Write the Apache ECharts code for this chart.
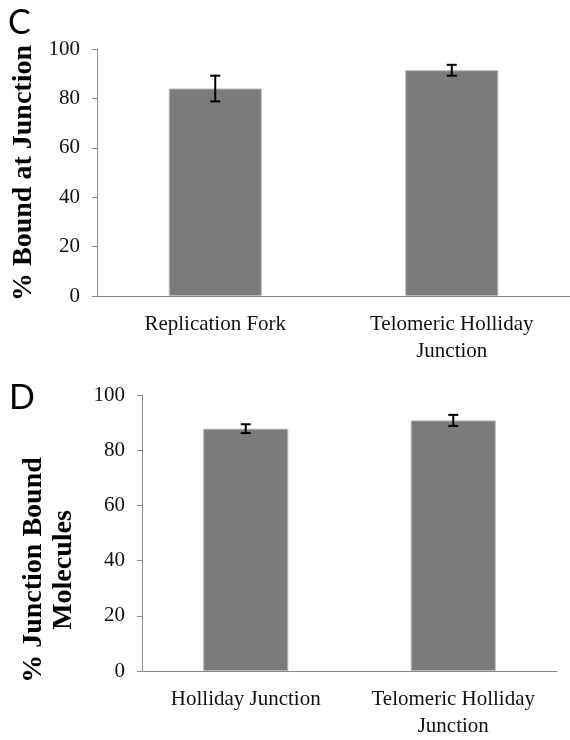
<!DOCTYPE html>
<html lang="en" style="height: 100%">
<head>
  <meta charset="utf-8">
</head>
<body style="height: 100%; margin: 0; background: #fff">
  <div id="container" style="width: 570px; height: 740px"></div>

  <script type="text/javascript" src="https://fastly.jsdelivr.net/npm/echarts@6.0.0/dist/echarts.min.js"></script>

  <script type="text/javascript">
    // panel C
    var catsC = ['Replication Fork', 'Telomeric Holliday\nJunction'];
    var valsC = [84.0, 91.4];
    var errC = [5.2, 2.2];
    // panel D
    var catsD = ['Holliday Junction', 'Telomeric Holliday\nJunction'];
    var valsD = [87.8, 90.8];
    var errD = [1.6, 2.0];

    var serif = "'Liberation Serif', 'Times New Roman', serif";
    var axisGray = '#8a8a8a';
    var barGray = '#7b7b7b';

    var dom = document.getElementById('container');
    var myChart = echarts.init(dom, null, { renderer: 'canvas' });

    function errData(vals, errs) {
      return vals.map(function (v, i) {
        return [i, v - errs[i], v + errs[i]];
      });
    }

    function renderErr(params, api) {
      var lo = api.coord([api.value(0), api.value(1)]);
      var hi = api.coord([api.value(0), api.value(2)]);
      var w = 5;
      var st = { stroke: '#000', lineWidth: 2 };
      return {
        type: 'group',
        children: [
          { type: 'line', shape: { x1: lo[0], y1: lo[1], x2: hi[0], y2: hi[1] }, style: st },
          { type: 'line', shape: { x1: lo[0] - w, y1: lo[1], x2: lo[0] + w, y2: lo[1] }, style: st },
          { type: 'line', shape: { x1: hi[0] - w, y1: hi[1], x2: hi[0] + w, y2: hi[1] }, style: st }
        ]
      };
    }

    function xAx(idx, cats) {
      return {
        type: 'category',
        gridIndex: idx,
        data: cats,
        axisLine: { lineStyle: { color: axisGray, width: 1 } },
        axisTick: { length: 6, lineStyle: { color: axisGray } },
        axisLabel: {
          margin: 15,
          fontFamily: serif,
          fontSize: 21,
          lineHeight: 27,
          color: '#111',
          interval: 0
        }
      };
    }

    function yAx(idx) {
      return {
        type: 'value',
        gridIndex: idx,
        min: 0,
        max: 100,
        interval: 20,
        splitLine: { show: false },
        axisLine: { show: true, lineStyle: { color: axisGray, width: 1 } },
        axisTick: { show: true, length: 5, lineStyle: { color: axisGray } },
        axisLabel: {
          margin: 17,
          fontFamily: serif,
          fontSize: 21,
          color: '#111'
        }
      };
    }

    var option = {
      animation: false,
      backgroundColor: '#fff',
      grid: [
        { left: 97, top: 49, width: 473, height: 247 },
        { left: 142, top: 395, width: 415, height: 282 }
      ],
      xAxis: [xAx(0, catsC), xAx(1, catsD)],
      yAxis: [yAx(0), yAx(1)],
      graphic: {
        elements: [
          {
            type: 'text', left: 8, top: 6,
            style: { text: 'C', font: '400 34px Lato, sans-serif', fill: '#000' }
          },
          {
            type: 'text', left: 9, top: 381,
            style: { text: 'D', font: '400 34px Lato, sans-serif', fill: '#000' }
          },
          {
            type: 'text', x: 24, y: 173, rotation: Math.PI / 2,
            style: {
              text: '% Bound at Junction',
              font: 'bold 28px ' + serif, fill: '#000',
              align: 'center', verticalAlign: 'middle'
            }
          },
          {
            type: 'text', x: 49, y: 570, rotation: Math.PI / 2,
            style: {
              text: '% Junction Bound\nMolecules',
              font: 'bold 28px ' + serif, fill: '#000', lineHeight: 30,
              align: 'center', verticalAlign: 'middle'
            }
          }
        ]
      },
      series: [
        {
          type: 'bar', xAxisIndex: 0, yAxisIndex: 0, data: valsC, barWidth: 93,
          itemStyle: { color: barGray, borderColor: '#b5b5b5', borderWidth: 1 }
        },
        {
          type: 'custom', xAxisIndex: 0, yAxisIndex: 0, data: errData(valsC, errC),
          encode: { x: 0, y: [1, 2] }, renderItem: renderErr, z: 10
        },
        {
          type: 'bar', xAxisIndex: 1, yAxisIndex: 1, data: valsD, barWidth: 85,
          itemStyle: { color: barGray, borderColor: '#b5b5b5', borderWidth: 1 }
        },
        {
          type: 'custom', xAxisIndex: 1, yAxisIndex: 1, data: errData(valsD, errD),
          encode: { x: 0, y: [1, 2] }, renderItem: renderErr, z: 10
        }
      ]
    };

    myChart.setOption(option);
    window.addEventListener('resize', myChart.resize);
  </script>
</body>
</html>
